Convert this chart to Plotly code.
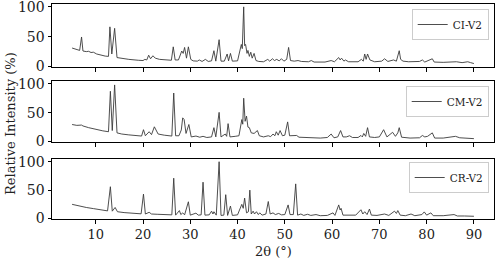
import plotly.graph_objects as go
from plotly.subplots import make_subplots

# CI-V2 pattern (2theta in degrees, relative intensity %)
ci_x = [5.0, 5.8, 6.6, 7.0, 7.3, 8.0, 8.5, 9.0, 9.5, 10.2, 11.0, 12.0, 12.7, 13.0, 13.4, 14.0, 14.5, 15.5, 17.0, 19.0,
        20.0, 20.4, 20.8, 21.2, 21.6, 22.1, 22.6, 23.5, 25.0, 26.0, 26.4, 26.8, 27.5, 28.2, 28.5, 28.8, 29.2, 29.6, 30.1, 30.6,
        31.5, 31.9, 32.5, 33.2, 33.8, 34.5, 35.0, 35.4, 36.1, 36.5, 37.2, 37.8, 38.1, 38.5, 38.9, 40.0, 40.8, 41.0, 41.3, 41.5,
        41.7, 42.0, 42.2, 42.5, 42.8, 43.1, 43.5, 43.9, 44.5, 45.5, 46.4, 46.8, 47.4, 47.8, 48.3, 48.8, 49.3, 49.8, 50.4, 50.8,
        51.2, 52.0, 52.8, 53.5, 55.0, 55.6, 56.2, 58.5, 59.8, 60.5, 61.4, 61.7, 62.0, 62.5, 62.8, 63.5, 65.5, 66.2, 66.6, 66.9,
        67.2, 67.5, 68.0, 69.0, 70.5, 71.1, 71.8, 73.0, 73.6, 74.2, 74.5, 75.0, 76.2, 77.0, 78.5, 79.1, 79.6, 81.2, 81.6, 83.5,
        84.5, 86.3, 87.5, 88.7, 89.3, 90.0]
ci_y = [31, 29, 27, 49.5, 26, 25, 25.5, 23.5, 24, 21, 19, 17.5, 17, 66.5, 21, 64, 15, 13.5, 12, 10.5,
        10, 12, 11, 19, 13, 18, 14, 12, 11, 10.5, 33, 11, 11, 26, 22, 32, 14, 33, 12, 9.5,
        9, 11, 8.5, 12, 8.5, 9.5, 26.5, 9, 45, 9, 9, 21, 9.5, 22, 9, 9.5, 37, 30, 100, 35,
        37, 22, 27, 17, 24, 14, 22, 10, 8.5, 8, 12, 9, 13, 10, 12, 9.5, 13, 9, 12, 32,
        10, 9, 10, 8.5, 8, 10, 7.5, 7.5, 10, 8, 15, 11, 14, 9, 11, 8, 8, 12, 9, 21,
        12, 21, 11, 8, 9, 13, 8.5, 11, 9, 26.5, 12, 9, 8, 8, 8.5, 11, 7.5, 13, 7.5, 7,
        7, 8, 6.5, 8, 6.5, 5]

# CM-V2 pattern
cm_x = [5.0, 6.0, 7.0, 7.3, 8.5, 10.0, 11.5, 12.7, 13.1, 13.5, 14.0, 14.5, 15.5, 17.0, 19.0, 19.7, 20.1, 20.5, 21.3, 21.8,
        22.4, 23.2, 24.5, 25.5, 26.1, 26.5, 26.9, 27.6, 28.1, 28.4, 28.7, 29.1, 29.7, 30.2, 31.2, 32.0, 32.7, 33.5, 34.5, 35.0,
        35.4, 36.1, 36.5, 37.4, 37.7, 38.0, 38.4, 39.5, 40.3, 40.9, 41.1, 41.3, 41.6, 41.9, 42.2, 42.5, 42.9, 43.5, 44.2, 44.6,
        45.5, 46.5, 47.0, 47.5, 47.9, 48.2, 48.6, 49.0, 49.5, 50.0, 50.6, 51.0, 52.5, 53.0, 55.0, 57.5, 59.0, 59.8, 60.4, 61.2,
        61.8, 62.3, 63.0, 63.7, 64.3, 65.5, 66.1, 66.4, 66.7, 67.1, 67.5, 67.9, 69.0, 70.0, 70.9, 71.6, 72.8, 73.4, 73.9, 74.2,
        74.7, 76.5, 78.5, 79.1, 79.6, 80.2, 81.2, 81.7, 83.5, 86.1, 87.0, 89.0, 90.0]
cm_y = [29.5, 28, 28.5, 27, 24, 21, 18.5, 17, 87, 19, 98, 15, 13, 11.5, 10, 9.5, 20.5, 10, 17, 12,
        25.5, 13, 11, 10, 9.5, 84, 10, 10, 20, 41, 38, 14, 29.5, 8, 9.5, 7.5, 9, 7, 8, 24,
        8, 50.5, 8, 13, 9, 31, 8, 9, 10, 38, 30, 75, 35, 44, 25, 24, 15, 14, 19, 10,
        8, 10, 8.5, 13, 10, 17, 11, 19, 10, 11, 34, 10, 10.5, 7.5, 6.5, 6, 7, 13, 6.5, 8,
        19, 8, 8, 10, 7, 7, 10.5, 8, 14, 9, 24, 8, 7, 8, 20.5, 8, 16, 9, 15, 24,
        7.5, 6, 6.5, 10.5, 8, 9, 15, 6, 6, 9, 6.5, 6, 5]

# CR-V2 pattern
cr_x = [5.0, 6.5, 8.0, 9.5, 11.0, 12.5, 13.1, 13.5, 14.1, 14.6, 16.0, 18.0, 19.6, 20.1, 20.5, 21.3, 21.8, 23.0, 25.0, 26.1,
        26.5, 26.9, 27.7, 28.0, 28.4, 28.8, 29.6, 30.0, 31.2, 31.7, 32.3, 32.7, 33.1, 34.0, 34.5, 34.8, 35.0, 35.5, 36.1, 36.5,
        37.1, 37.5, 37.9, 38.5, 38.9, 40.0, 40.9, 41.2, 41.5, 41.9, 42.3, 42.6, 42.9, 43.3, 43.6, 44.0, 44.4, 44.7, 45.2, 46.0,
        46.5, 46.9, 47.5, 48.0, 48.7, 49.3, 50.0, 50.7, 51.1, 51.8, 52.3, 52.7, 53.4, 54.0, 54.8, 55.5, 56.6, 57.5, 59.0, 60.2,
        60.6, 61.4, 61.7, 61.9, 62.3, 63.5, 65.0, 66.1, 66.5, 66.9, 67.4, 67.9, 68.3, 69.5, 71.1, 72.0, 73.2, 73.6, 73.9, 74.4,
        75.5, 76.7, 77.5, 79.0, 79.5, 80.0, 80.9, 81.4, 83.5, 85.8, 86.5, 88.0, 90.0]
cr_y = [25, 22, 19.5, 17.5, 15.5, 13.5, 56, 13, 19.5, 12, 10.5, 9, 8.3, 43, 8, 11, 8, 7.5, 6.5, 6.5,
        71, 6, 14, 7, 10, 6.5, 29.5, 6, 9.5, 6, 6.5, 64, 6, 6.5, 13, 8, 12, 6, 100, 5.5,
        6, 42, 5.5, 22, 5.5, 6.5, 25, 18, 36, 10, 12, 50, 8, 13, 8, 12, 7, 10, 6, 8,
        30, 8, 10, 7, 9, 6.5, 7, 24, 7, 7, 61, 6, 8, 5.5, 7.5, 5.5, 7, 5, 5.5, 10,
        5.5, 24, 15, 18, 6, 5.5, 6, 15.5, 8, 12, 7, 16.7, 6, 5.5, 8, 5.5, 13, 9, 14, 6,
        5, 8, 5, 7, 11.7, 6, 10, 5, 5, 7, 4.5, 4.5, 4]

names = ["CI-V2", "CM-V2", "CR-V2"]
xs = [ci_x, cm_x, cr_x]
ys = [ci_y, cm_y, cr_y]
x_ticks = [10, 20, 30, 40, 50, 60, 70, 80, 90]
y_ticks = [0, 50, 100]

FONT = "DejaVu Serif"
W, H = 498, 262
L, R, T, B = 52, 4, 4, 43
ph = H - T - B

def py2paper(py):
    return (H - B - py) / ph

panels = [(4, 67), (81, 142), (159, 219)]
legend_top = [9, 86, 162]

fig = make_subplots(rows=3, cols=1)

for i in range(3):
    leg = "legend" if i == 0 else "legend%d" % (i + 1)
    fig.add_trace(go.Scatter(x=xs[i], y=ys[i], mode="lines", name=names[i],
                             line=dict(color="#3a3a3a", width=0.9), legend=leg),
                  row=i + 1, col=1)
    top, bot = panels[i]
    fig.update_yaxes(domain=[py2paper(bot), py2paper(top)], range=[-0.8, 104.8],
                     tickvals=y_ticks, row=i + 1, col=1)
    fig.update_xaxes(range=[0.75, 94.25], tickvals=x_ticks, showticklabels=(i == 2),
                     row=i + 1, col=1)
    fig.update_layout({leg: dict(x=0.988, xanchor="right", y=py2paper(legend_top[i]), yanchor="top",
                                 bgcolor="white", bordercolor="#cccccc", borderwidth=1,
                                 font=dict(family=FONT, size=10.5, color="#222"),
                                 tracegroupgap=0, itemwidth=30)})

fig.update_xaxes(showline=True, linecolor="black", linewidth=1, mirror=True, ticks="outside",
                 ticklen=3.5, tickwidth=1, tickcolor="black", showgrid=False, zeroline=False,
                 automargin=False, ticklabeloverflow="allow",
                 tickfont=dict(family=FONT, size=13, color="#222"))
fig.update_yaxes(showline=True, linecolor="black", linewidth=1, mirror=True, ticks="outside",
                 ticklen=3.5, tickwidth=1, tickcolor="black", showgrid=False, zeroline=False,
                 automargin=False, ticklabeloverflow="allow",
                 tickfont=dict(family=FONT, size=14, color="#222"))

fig.add_annotation(text="Relative Intensity (%)", xref="paper", yref="paper", x=-(L - 10) / (W - L - R),
                   y=py2paper(124), xanchor="center", yanchor="middle", textangle=-90, showarrow=False,
                   font=dict(family=FONT, size=13, color="#222"))
fig.add_annotation(text="2θ (°)", xref="paper", yref="paper", x=0.5, y=py2paper(251),
                   xanchor="center", yanchor="middle", showarrow=False,
                   font=dict(family=FONT, size=13, color="#222"))

fig.update_layout(width=W, height=H, margin=dict(l=L, r=R, t=T, b=B),
                  paper_bgcolor="white", plot_bgcolor="white", showlegend=True)

# the page body has a default 8px margin; drop it so the figure sits at the window corner
fig.write_html("out.html", config={"displayModeBar": False},
               post_script="document.body.style.margin='0';")
